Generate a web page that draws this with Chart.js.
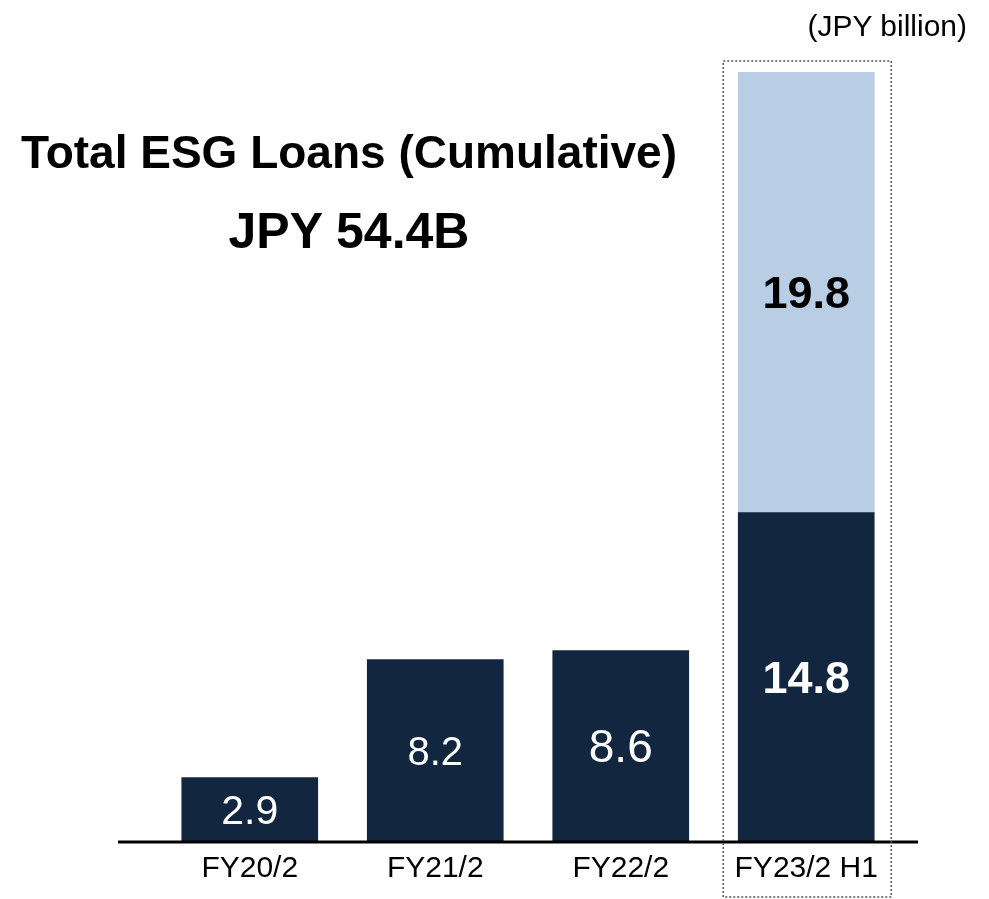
<!DOCTYPE html>
<html>
<head>
<meta charset="utf-8">
<script src="https://cdn.jsdelivr.net/npm/chart.js@4.4.0/dist/chart.umd.min.js"></script>
<style>
    html, body { margin: 0; padding: 0; background: #fff; }
    #wrap { position: relative; width: 989px; height: 899px; font-family: "Liberation Sans", Arial, sans-serif; }
    #grafico { position: absolute; left: 0; top: 0; }
    .texto { position: absolute; color: #000; white-space: nowrap; line-height: 1; }
    #unidad { right: 22px; top: 11px; font-size: 30px; }
    #titulo { left: 0; width: 698px; text-align: center; top: 129px; font-size: 46px; font-weight: bold; }
    #total { left: 0; width: 698px; text-align: center; top: 206px; font-size: 50px; font-weight: bold; }
</style>
</head>
<body>
<div id="wrap">
    <canvas id="grafico" width="989" height="899"></canvas>
    <div class="texto" id="unidad">(JPY billion)</div>
    <div class="texto" id="titulo">Total ESG Loans (Cumulative)</div>
    <div class="texto" id="total">JPY 54.4B</div>
</div>
<script>
// datos
const periodos = ['FY20/2', 'FY21/2', 'FY22/2', 'FY23/2 H1'];
const prestamosAnuales = [2.9, 8.2, 8.6, 14.8];
const prestamosH1 = [null, null, null, 19.8];

const colorOscuro = '#13263f';
const colorClaro = '#b9cde5';

// estilo de las etiquetas dentro de las barras
const estiloEtiquetas = [
    [
        { size: 41, weight: 'normal', color: '#fff' },
        { size: 40, weight: 'normal', color: '#fff' },
        { size: 46, weight: 'normal', color: '#fff' },
        { size: 45, weight: 'bold', color: '#fff' }
    ],
    [null, null, null, { size: 45, weight: 'bold', color: '#000' }]
];

const etiquetasBarras = {
    id: 'etiquetasBarras',
    afterDatasetsDraw(chart) {
        const ctx = chart.ctx;
        chart.data.datasets.forEach((ds, i) => {
            const meta = chart.getDatasetMeta(i);
            meta.data.forEach((barra, j) => {
                const valor = ds.data[j];
                if (valor === null || valor === undefined) return;
                const est = estiloEtiquetas[i][j];
                ctx.save();
                ctx.fillStyle = est.color;
                ctx.font = est.weight + ' ' + est.size + 'px "Liberation Sans", Arial, sans-serif';
                ctx.textAlign = 'center';
                ctx.textBaseline = 'middle';
                ctx.fillText(valor.toFixed(1), barra.x, (barra.y + barra.base) / 2 + 3);
                ctx.restore();
            });
        });
    }
};

const ejeYMarco = {
    id: 'ejeYMarco',
    afterDraw(chart) {
        const ctx = chart.ctx;
        const area = chart.chartArea;
        const x = chart.scales.x;
        // linea base
        ctx.save();
        ctx.strokeStyle = '#000';
        ctx.lineWidth = 3;
        ctx.beginPath();
        ctx.moveTo(118, area.bottom);
        ctx.lineTo(918, area.bottom);
        ctx.stroke();
        // marco punteado del ultimo periodo
        const xc = x.getPixelForValue(periodos.length - 1);
        ctx.strokeStyle = '#555';
        ctx.lineWidth = 1.5;
        ctx.setLineDash([2, 2]);
        ctx.strokeRect(xc - 83, 61, 168, 836);
        ctx.restore();
    }
};

new Chart(document.getElementById('grafico'), {
    type: 'bar',
    data: {
        labels: periodos,
        datasets: [
            {
                label: 'Anual',
                data: prestamosAnuales,
                backgroundColor: colorOscuro,
                barThickness: 136
            },
            {
                label: 'H1',
                data: prestamosH1,
                backgroundColor: colorClaro,
                barThickness: 136
            }
        ]
    },
    options: {
        responsive: false,
        animation: false,
        layout: {
            padding: { left: 157, right: 90, top: 72, bottom: 3 }
        },
        plugins: {
            legend: { display: false },
            tooltip: { enabled: false }
        },
        scales: {
            x: {
                stacked: true,
                grid: { display: false, drawTicks: false },
                border: { display: false },
                ticks: {
                    color: '#000',
                    padding: 9,
                    font: { size: 30, family: '"Liberation Sans", Arial, sans-serif' }
                }
            },
            y: {
                stacked: true,
                display: false,
                min: 0,
                max: 34.6
            }
        }
    },
    plugins: [etiquetasBarras, ejeYMarco]
});
</script>
</body>
</html>
